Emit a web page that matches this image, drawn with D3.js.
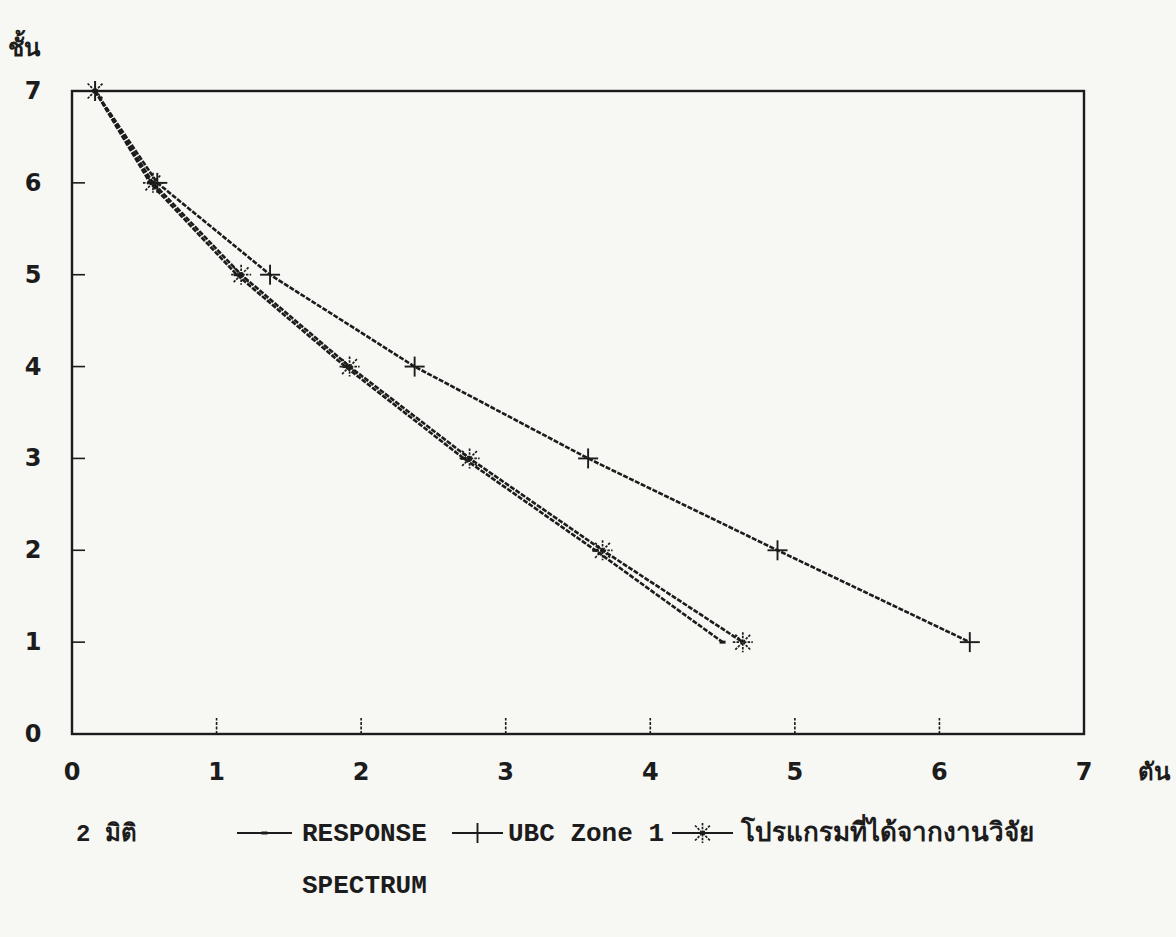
<!DOCTYPE html>
<html>
<head>
<meta charset="utf-8">
<script src="https://cdn.jsdelivr.net/npm/d3@7"></script>
<style>
  html, body { margin: 0; padding: 0; background: #f7f7f4; }
  svg { display: block; }
</style>
</head>
<body>
<svg id="chart" width="1176" height="937"></svg>
<script>
// Floors (ชั้น) and lateral force per floor (ตัน) for three methods
const floors = [7, 6, 5, 4, 3, 2, 1];
const responseSpectrum = [0.16, 0.54, 1.14, 1.89, 2.71, 3.62, 4.50];
const ubcZone1 = [0.16, 0.59, 1.37, 2.37, 3.57, 4.88, 6.21];
const researchProgram = [0.16, 0.56, 1.17, 1.92, 2.75, 3.67, 4.64];
const xTicks = [0, 1, 2, 3, 4, 5, 6, 7];
const yTicks = [0, 1, 2, 3, 4, 5, 6, 7];

const svg = d3.select("#chart");
const ink = "#1c1c1c";

const x = d3.scaleLinear().domain([0, 7]).range([72, 1084]);
const y = d3.scaleLinear().domain([0, 7]).range([734, 91]);

// plot frame
svg.append("rect")
  .attr("x", x(0)).attr("y", y(7))
  .attr("width", x(7) - x(0)).attr("height", y(0) - y(7))
  .attr("fill", "none").attr("stroke", ink).attr("stroke-width", 2.4);

// inward tick marks
svg.append("g").selectAll("line").data(xTicks.slice(1, -1)).join("line")
  .attr("x1", d => x(d)).attr("x2", d => x(d))
  .attr("y1", y(0)).attr("y2", y(0) - 16)
  .attr("stroke", ink).attr("stroke-width", 1.6).attr("stroke-dasharray", "3,1.5");
svg.append("g").selectAll("line").data(yTicks.slice(1, -1)).join("line")
  .attr("x1", x(0)).attr("x2", x(0) + 13)
  .attr("y1", d => y(d)).attr("y2", d => y(d))
  .attr("stroke", ink).attr("stroke-width", 1.6);

// tick labels
const tickFont = "'DejaVu Sans', sans-serif";
svg.append("g").selectAll("text").data(xTicks).join("text")
  .attr("x", d => x(d)).attr("y", 780)
  .attr("text-anchor", "middle")
  .attr("font-family", tickFont).attr("font-weight", "bold").attr("font-size", 24)
  .attr("fill", ink).text(d => d);
svg.append("g").selectAll("text").data(yTicks).join("text")
  .attr("x", 33).attr("y", d => y(d) + 8)
  .attr("text-anchor", "middle")
  .attr("font-family", tickFont).attr("font-weight", "bold").attr("font-size", 24)
  .attr("fill", ink).text(d => d);

// axis titles
svg.append("text").attr("x", 8).attr("y", 56)
  .attr("font-family", "'Noto Sans', 'DejaVu Sans', sans-serif").attr("font-weight", "bold")
  .attr("font-size", 24).attr("fill", ink).text("ชั้น");
svg.append("text").attr("x", 1138).attr("y", 780)
  .attr("font-family", "'Noto Sans', 'DejaVu Sans', sans-serif").attr("font-weight", "bold")
  .attr("font-size", 24).attr("fill", ink).text("ตัน");

// series lines
const series = [
  { name: "response", values: responseSpectrum, marker: "dot" },
  { name: "ubc", values: ubcZone1, marker: "plus" },
  { name: "program", values: researchProgram, marker: "star" }
];

const line = d3.line().x(d => x(d[0])).y(d => y(d[1]));

function drawMarker(g, kind, cx, cy) {
  if (kind === "dot") {
    g.append("line").attr("x1", cx - 3).attr("x2", cx + 3).attr("y1", cy).attr("y2", cy)
      .attr("stroke", ink).attr("stroke-width", 3);
  } else if (kind === "plus") {
    const r = 10;
    g.append("line").attr("x1", cx - r).attr("x2", cx + r).attr("y1", cy).attr("y2", cy)
      .attr("stroke", ink).attr("stroke-width", 1.9);
    g.append("line").attr("x1", cx).attr("x2", cx).attr("y1", cy - r).attr("y2", cy + r)
      .attr("stroke", ink).attr("stroke-width", 1.9);
  } else {
    const r = 10, d = 7.5;
    [[-r, 0, r, 0], [0, -r, 0, r], [-d, -d, d, d], [-d, d, d, -d]].forEach(s => {
      g.append("line").attr("x1", cx + s[0]).attr("y1", cy + s[1])
        .attr("x2", cx + s[2]).attr("y2", cy + s[3])
        .attr("stroke", ink).attr("stroke-width", 1.7).attr("stroke-dasharray", "2.5,1.2");
    });
  }
}

series.forEach(s => {
  const pts = s.values.map((v, i) => [v, floors[i]]);
  svg.append("path").datum(pts)
    .attr("d", line)
    .attr("fill", "none").attr("stroke", ink)
    .attr("stroke-width", 2.6).attr("stroke-dasharray", "5,1.5");
  const g = svg.append("g");
  pts.forEach(p => drawMarker(g, s.marker, x(p[0]), y(p[1])));
});

// legend
const legendY = 833;
const legendFont = "'Liberation Mono', 'DejaVu Sans Mono', monospace";
svg.append("text").attr("x", 76).attr("y", legendY + 8)
  .attr("font-family", legendFont).attr("font-weight", "bold").attr("font-size", 24)
  .attr("fill", ink).text("2 มิติ");

const legendItems = [
  { marker: "dot", x1: 237, x2: 292, label: "RESPONSE", lx: 302 },
  { marker: "plus", x1: 452, x2: 503, label: "UBC Zone 1", lx: 508 },
  { marker: "star", x1: 672, x2: 733, label: "โปรแกรมที่ได้จากงานวิจัย", lx: 741 }
];
legendItems.forEach(it => {
  const g = svg.append("g");
  g.append("line").attr("x1", it.x1).attr("x2", it.x2)
    .attr("y1", legendY).attr("y2", legendY)
    .attr("stroke", ink).attr("stroke-width", 2.2);
  drawMarker(g, it.marker, (it.x1 + it.x2) / 2, legendY);
  g.append("text").attr("x", it.lx).attr("y", legendY + 8)
    .attr("font-family", legendFont).attr("font-weight", "bold").attr("font-size", 26)
    .attr("fill", ink).text(it.label);
});
svg.append("text").attr("x", 302).attr("y", 893)
  .attr("font-family", legendFont).attr("font-weight", "bold").attr("font-size", 26)
  .attr("fill", ink).text("SPECTRUM");
</script>
</body>
</html>
